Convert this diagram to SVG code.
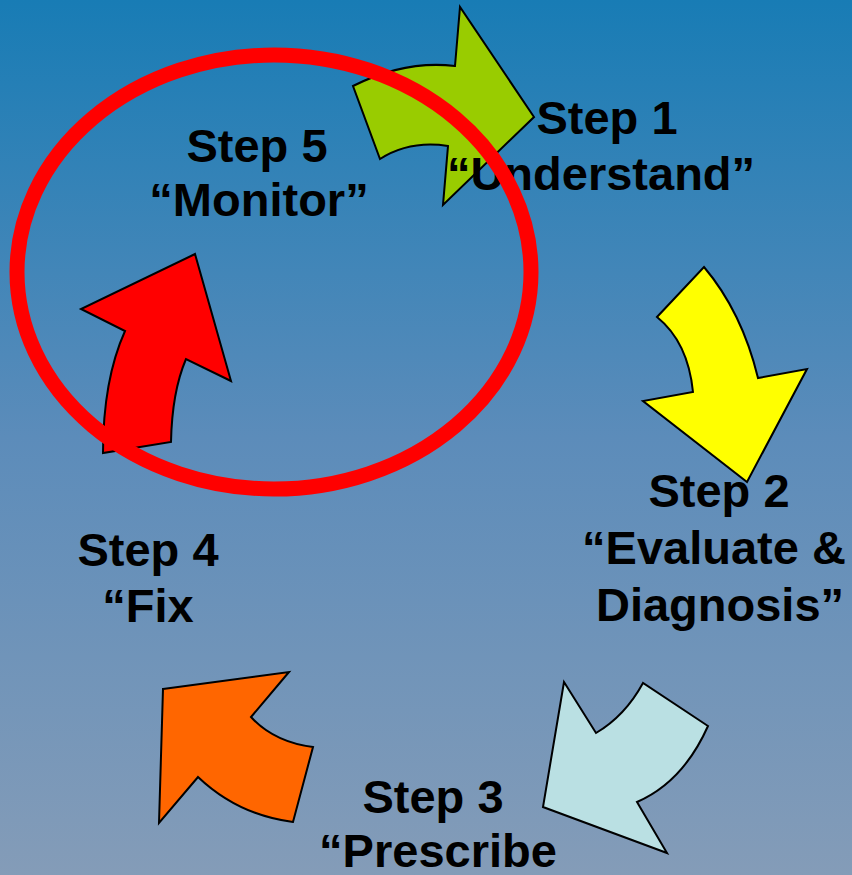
<svg xmlns="http://www.w3.org/2000/svg" width="852" height="875" viewBox="0 0 852 875">
<defs>
<linearGradient id="bg" x1="0" y1="0" x2="0" y2="1">
<stop offset="0" stop-color="#187cb5"/>
<stop offset="0.5" stop-color="#5c8cba"/>
<stop offset="1" stop-color="#849cb8"/>
</linearGradient>
</defs>
<style>
.arrow{stroke:#000;stroke-width:2;stroke-linejoin:miter}
.lbl{font-family:"Liberation Sans",Arial,sans-serif;font-weight:bold;font-size:47px;fill:#000;text-anchor:middle}
</style>
<rect width="852" height="875" fill="url(#bg)"/>
<g id="arrow1"><path class="arrow" fill="#99cc00" d="M353,86 Q405,60 455,66 L460,7 L534,117 L443,205 L448,146 Q410,140 380,159 Z"/></g>
<g id="arrow2"><path class="arrow" fill="#ffff00" d="M704,267 Q742,312 758,378 L807,369 L747,482 L643,401 L693,392 Q688,342 657,317 Z"/></g>
<g id="arrow3"><path class="arrow" fill="#bae0e3" d="M564,682 L596,733 Q625,716 643,683 L708,726 Q683,782 637,802 L667,853 L543,807 Z"/></g>
<g id="arrow4"><path class="arrow" fill="#ff6600" d="M163,689 L289,672 L251,717 Q274,742 313,747 L293,822 Q238,815 198,777 L159,823 Z"/></g>
<g id="arrow5"><path class="arrow" fill="#ff0000" d="M195,254 L231,381 L186,359 Q172,392 171,442 L103,453 Q103,380 125,331 L81,309 Z"/></g>
<g id="step1"><text class="lbl" x="607" y="134">Step 1</text><text class="lbl" x="601" y="190">“Understand”</text></g>
<g id="step2"><text class="lbl" x="719" y="507">Step 2</text><text class="lbl" x="714" y="564">“Evaluate &amp;</text><text class="lbl" x="720" y="621">Diagnosis”</text></g>
<g id="step3"><text class="lbl" x="433" y="813">Step 3</text><text class="lbl" x="438" y="867">“Prescribe</text></g>
<g id="step4"><text class="lbl" x="148" y="566">Step 4</text><text class="lbl" x="148" y="622">“Fix</text></g>
<g id="step5"><text class="lbl" x="257" y="162">Step 5</text><text class="lbl" x="259" y="216">“Monitor”</text></g>
<g id="highlight"><ellipse cx="274" cy="272" rx="257" ry="217" fill="none" stroke="#ff0000" stroke-width="15"/></g>
</svg>
